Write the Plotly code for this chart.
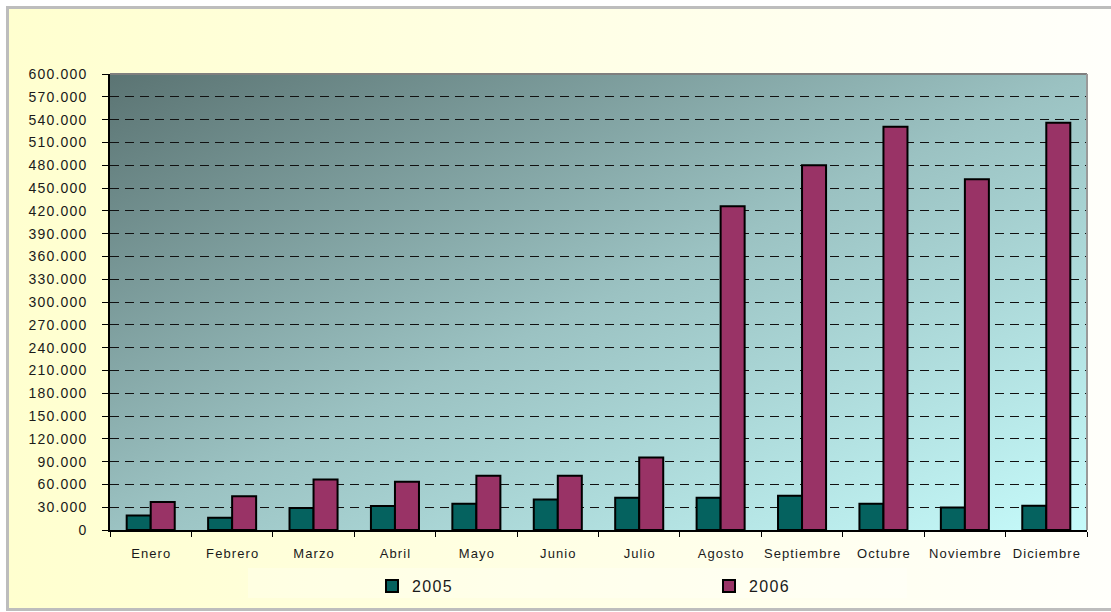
import base64
import plotly.graph_objects as go

# Monthly figures for two years
meses = ["Enero", "Febrero", "Marzo", "Abril", "Mayo", "Junio", "Julio",
         "Agosto", "Septiembre", "Octubre", "Noviembre", "Diciembre"]
serie_2005 = [19000, 16000, 29000, 31500, 34500, 40000, 42500, 42500, 45000, 34500, 29500, 32000]
serie_2006 = [37000, 44500, 66500, 63500, 71500, 71500, 95500, 426000, 480000, 530500, 461500, 536000]
y_ticks = list(range(0, 600001, 30000))

W, H = 1111, 612
L, R, T, B = 110, 24, 74, 82
PW, PH = W - L - R, H - T - B

SP = "\u200a"


def spaced(s):
    return SP.join(s)


def miles(v):
    return spaced(f"{v:,}".replace(",", ".")) if v else "0"


def px_x(p):
    return (p - L) / PW


def px_y(p):
    return (H - B - p) / PH


def svg_uri(svg):
    return "data:image/svg+xml;base64," + base64.b64encode(svg.encode()).decode()


plot_bg = svg_uri(
    '<svg xmlns="http://www.w3.org/2000/svg" width="400" height="200" preserveAspectRatio="none">'
    '<defs><linearGradient id="g" x1="0" y1="0" x2="1" y2="1">'
    '<stop offset="0" stop-color="#5b7473"/>'
    '<stop offset="0.5" stop-color="#9bc2c2"/>'
    '<stop offset="1" stop-color="#c6fbfb"/>'
    '</linearGradient></defs><rect width="400" height="200" fill="url(#g)"/></svg>'
)
paper_bg = svg_uri(
    '<svg xmlns="http://www.w3.org/2000/svg" width="400" height="200" preserveAspectRatio="none">'
    '<defs><linearGradient id="g" x1="0" y1="0" x2="1" y2="0">'
    '<stop offset="0" stop-color="#ffffcf"/>'
    '<stop offset="1" stop-color="#fffffb"/>'
    '</linearGradient></defs><rect width="400" height="200" fill="url(#g)"/></svg>'
)

FONT = "Liberation Sans Narrow, Arial Narrow, Liberation Sans, Arial, sans-serif"

fig = go.Figure()
fig.add_trace(go.Bar(
    x=meses, y=serie_2005, name=spaced("2005"),
    marker=dict(color="#05625f", line=dict(color="#000000", width=2)),
))
fig.add_trace(go.Bar(
    x=meses, y=serie_2006, name=spaced("2006"),
    marker=dict(color="#993366", line=dict(color="#000000", width=2)),
))

fig.update_layout(
    width=W, height=H, autosize=False,
    margin=dict(l=L, r=R, t=T, b=B, pad=0, autoexpand=False),
    paper_bgcolor="#ffffff",
    plot_bgcolor="rgba(0,0,0,0)",
    barmode="group", bargap=0.41, bargroupgap=0,
    font=dict(family=FONT, color="#1a1a1a"),
    showlegend=True,
    legend=dict(
        orientation="h", x=px_x(372), xanchor="left", y=px_y(586), yanchor="middle",
        bgcolor="rgba(0,0,0,0)", font=dict(size=16, family=FONT, color="#1a1a1a"),
        entrywidth=292, entrywidthmode="pixels", traceorder="normal",
    ),
    xaxis=dict(
        tickmode="array", tickvals=meses, ticktext=[spaced(m) for m in meses],
        tickson="boundaries", ticks="outside", ticklen=5, tickcolor="#000000",
        showline=True, linecolor="#000000", linewidth=2,
        tickfont=dict(size=13, family=FONT, color="#1a1a1a"),
        tickangle=0, automargin=False,
        ticklabelstandoff=10, showgrid=False,
    ),
    yaxis=dict(
        range=[0, 600000], tickmode="array", tickvals=y_ticks,
        ticktext=[miles(v) for v in y_ticks],
        ticks="outside", ticklen=6, tickcolor="#000000",
        showline=True, linecolor="#000000", linewidth=2,
        tickfont=dict(size=14, family=FONT, color="#1a1a1a"),
        ticklabelstandoff=13, automargin=False,
        showgrid=True, gridcolor="#111111", gridwidth=1, griddash="9px,6px",
        zeroline=False,
    ),
    images=[
        dict(source=paper_bg, xref="paper", yref="paper",
             x=px_x(9), y=px_y(9), sizex=(W - 9) / PW, sizey=(609 - 9) / PH,
             xanchor="left", yanchor="top", sizing="stretch", layer="below"),
        dict(source=plot_bg, xref="paper", yref="paper",
             x=0, y=1, sizex=1, sizey=1,
             xanchor="left", yanchor="top", sizing="stretch", layer="below"),
    ],
    shapes=[
        # outer frame
        dict(type="rect", xref="paper", yref="paper",
             x0=px_x(7.5), x1=px_x(W + 10), y0=px_y(609.5), y1=px_y(7.5),
             line=dict(color="#bdbdbd", width=3), fillcolor="rgba(0,0,0,0)", layer="above"),
        # plot area top and right edges
        dict(type="line", xref="paper", yref="paper", x0=0, x1=1, y0=1, y1=1,
             line=dict(color="#7f7f7f", width=2), layer="above"),
        dict(type="line", xref="paper", yref="paper", x0=1, x1=1, y0=0, y1=1,
             line=dict(color="#9a9a9a", width=2), layer="above"),
        # legend panel
        dict(type="rect", xref="paper", yref="paper",
             x0=px_x(248), x1=px_x(907), y0=px_y(598), y1=px_y(568),
             line=dict(width=0), fillcolor="rgba(255,255,255,0.25)", layer="below"),
    ],
)

fig.write_html("out.html")
